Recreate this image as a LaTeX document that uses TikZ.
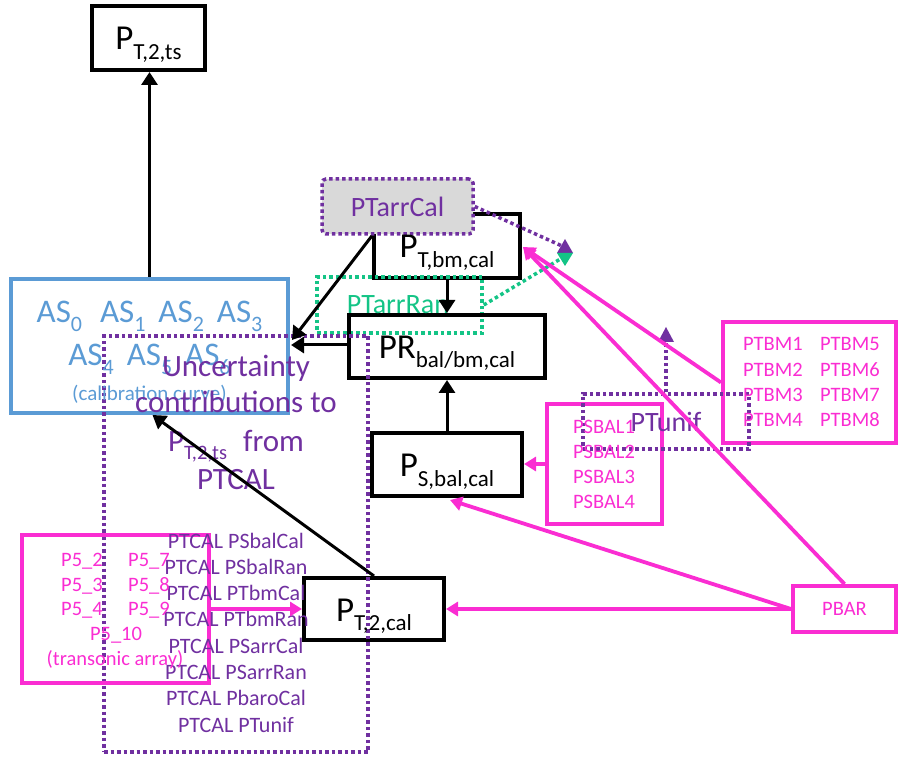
\documentclass[tikz,border=0pt]{standalone}
\usepackage{fontspec}
\setmainfont{Carlito}
\usetikzlibrary{arrows.meta,calc}
\definecolor{mag}{RGB}{250,45,210}
\definecolor{purp}{RGB}{112,48,160}
\definecolor{grn}{RGB}{20,196,134}
\definecolor{blu}{RGB}{91,155,213}
\definecolor{gry}{RGB}{217,217,217}
\newcommand\fs[1]{\fontsize{#1}{#1}\selectfont}
\newcommand\subP[1]{\raisebox{-9.5pt}{\fs{23}#1}}
\newcommand\subA[1]{\raisebox{-8.5pt}{\fs{22}#1}}
\newcommand\subU[1]{\raisebox{-8pt}{\fs{20.5}#1}}
\begin{document}
\begin{tikzpicture}[x=1pt,y=-1pt,
  blackbox/.style={draw=black, line width=4pt, rectangle, inner sep=0pt},
  magbox/.style={draw=mag, line width=4pt, rectangle, inner sep=0pt},
  bluebox/.style={draw=blu, line width=4pt, rectangle, inner sep=0pt},
  purpdotbox/.style={draw=purp, line width=3.5pt, dash pattern=on 3.5pt off 3pt, rectangle, inner sep=0pt},
  grndotbox/.style={draw=grn, line width=3.5pt, dash pattern=on 3.5pt off 3pt, rectangle, inner sep=0pt},
  ptext/.style={font=\fs{35}, inner sep=0pt, text=black},
  astext/.style={font=\fs{33}, inner sep=0pt, text=blu},
  unctext/.style={font=\fs{31}, inner sep=0pt, text=purp},
  caltext/.style={font=\fs{22}, inner sep=0pt, text=purp},
  magtext/.style={font=\fs{20.5}, inner sep=0pt, text=mag},
  barrow/.style={draw=black, line width=3pt, -{Triangle[length=13pt,width=16pt]}},
  marrow/.style={draw=mag, line width=3.8pt, -{Triangle[length=12pt,width=14pt]}},
  purpdot/.style={draw=purp, line width=3.5pt, dash pattern=on 3.5pt off 3pt},
  grndot/.style={draw=grn, line width=3.5pt, dash pattern=on 3.5pt off 3pt},
]
\useasboundingbox (0,0) rectangle (898,759);

% boxes
\node[bluebox, minimum width=277pt, minimum height=134pt] (as) at (149.5,346) {};
\node[blackbox, minimum width=113pt, minimum height=64pt] (pt2ts) at (148.5,38) {};
\node[blackbox, minimum width=146pt, minimum height=64pt] (ptbm) at (447,246) {};
\node[grndotbox, minimum width=165pt, minimum height=56pt] (ptarrran) at (399.5,305) {};
\node[blackbox, minimum width=196pt, minimum height=63pt] (pr) at (447,346.5) {};
\node[blackbox, minimum width=150pt, minimum height=63pt] (ps) at (447,464.5) {};
\node[blackbox, minimum width=140pt, minimum height=62pt] (pt2cal) at (374,609) {};
\node[purpdotbox, minimum width=264pt, minimum height=416pt] (unc) at (236,544) {};
\node[magbox, minimum width=187pt, minimum height=148pt] (p5) at (115.5,609) {};
\node[magbox, minimum width=115pt, minimum height=120pt] (psbal) at (604.5,464) {};
\node[magbox, minimum width=173pt, minimum height=121pt] (ptbmb) at (809.5,382.5) {};
\node[magbox, minimum width=103pt, minimum height=46pt, font=\fs{20.5}, text=mag] (pbar) at (844.5,609) {PBAR};
\node[purpdotbox, minimum width=166pt, minimum height=55pt, font=\fs{28}, text=purp] (ptunif) at (666,421.5) {PTunif};
\node[purpdotbox, fill=gry, rounded corners=4pt, minimum width=151pt, minimum height=55pt, font=\fs{28}, text=purp] (ptarrcal) at (397.5,206.5) {PTarrCal};
\node[font=\fs{28}, text=grn, inner sep=0pt, anchor=base] (ptarrranT) at (398,314) {PTarrRan};

% P texts
\node[ptext, anchor=base] (pt2tsT) at ($(pt2ts.center)+(0,12)$) {P\subP{T,2,ts}};
\node[ptext, anchor=base] (ptbmT) at ($(ptbm.center)+(0,12)$) {P\subP{T,bm,cal}};
\node[ptext, anchor=base] (prT) at ($(pr.center)+(0,12)$) {PR\subP{bal/bm,cal}};
\node[ptext, anchor=base] (psT) at ($(ps.center)+(0,12)$) {P\subP{S,bal,cal}};
\node[ptext, anchor=base] (pt2calT) at ($(pt2cal.center)+(0,12)$) {P\subP{T,2,cal}};

% AS texts
\node[astext, anchor=base] (as1) at (149.5,323) {AS\subA{0}\hspace{18pt}AS\subA{1}\hspace{13pt}AS\subA{2}\hspace{13pt}AS\subA{3}};
\node[astext, anchor=base] (as2) at (149.5,366) {AS\subA{4}\hspace{13pt}AS\subA{5}\hspace{13pt}AS\subA{6}};
\node[font=\fs{21}, text=blu, inner sep=0pt, anchor=base] (as3) at (149.5,401) {(calibration curve)};

% Uncertainty text
\node[unctext, anchor=base] (u1) at (236,377) {Uncertainty};
\node[unctext, anchor=base] (u2) at (236,413) {contributions to};
\node[unctext, anchor=base] (u3) at (236,452) {P\subU{T,2,ts}\hspace{16pt}from};
\node[unctext, anchor=base] (u4) at (236,490) {PTCAL};
\foreach \t [count=\i from 0] in {PSbalCal,PSbalRan,PTbmCal,PTbmRan,PSarrCal,PSarrRan,PbaroCal,PTunif}
  \node[caltext, anchor=base] (cal\i) at (236,{548+26.3*\i}) {PTCAL \t};

% P5 texts
\node[magtext, anchor=base] (p5a) at (82,566) {P5\_2};
\node[magtext, anchor=base] (p5b) at (82,591) {P5\_3};
\node[magtext, anchor=base] (p5c) at (82,615) {P5\_4};
\node[magtext, anchor=base] (p5d) at (149,566) {P5\_7};
\node[magtext, anchor=base] (p5e) at (149,591) {P5\_8};
\node[magtext, anchor=base] (p5f) at (149,615) {P5\_9};
\node[magtext, anchor=base] (p5g) at (116,640) {P5\_10};
\node[magtext, anchor=base] (p5h) at (115,665) {(transonic array)};

% PSBAL texts
\foreach \i in {1,...,4}
  \node[magtext, anchor=base] (psb\i) at (604,{409+25*\i}) {PSBAL\i};
% PTBM texts
\foreach \i in {1,...,4}{
  \node[magtext, anchor=base] (ptbmL\i) at (773,{325.5+25.3*\i}) {PTBM\i};
  \pgfmathtruncatemacro\j{\i+4}
  \node[magtext, anchor=base] (ptbmR\i) at (850,{325.5+25.3*\i}) {PTBM\j};
}

% triangles (dotted connector ends)
\coordinate (pcT) at (562,246);
\coordinate (gcT) at (562,258);
\coordinate (puT) at (666,342);
\draw[purpdot] (ptarrcal.east) -- (pcT);
\draw[grndot] (ptarrran.east) -- (gcT);
\draw[purpdot] (ptunif.north) -- (puT);
\fill[purp] (565,239) -- (573,253) -- (557,253) -- cycle;
\fill[grn] (557,253) -- (573,253) -- (565,266) -- cycle;
\fill[purp] (666,327) -- (674,342) -- (658,342) -- cycle;

% black connectors
\draw[barrow] (as.north) -- (as.north |- pt2ts.south);
\draw[barrow] (ptbm.south) -- (pr.north);
\draw[barrow] (ps.north) -- (pr.south);
\draw[barrow] ($(pr.west)+(0,-1.5)$) -- ($(pr.west -| as.east)+(1,-1.5)$);
\draw[barrow] (ptbm.west |- ptarrcal.south) -- ($(as.east)+(2,-6)$);
\draw[barrow] (pt2cal.north) -- ($(as.south)+(3,0)$);

% magenta connectors
\draw[marrow] (p5.east |- pt2cal.west) -- (pt2cal.west);
\draw[marrow] (pbar.west) -- (pbar.west -| pt2cal.east);
\draw[marrow] (pbar.west) -- ($(ps.south)+(3,2)$);
\draw[marrow] (pbar.north) -- ($(ptbm.east)+(1,1)$);
\draw[marrow] (ptbmb.west) -- ($(ptbm.east)+(1,1)$);
\draw[marrow] (psbal.west) -- (psbal.west -| ps.east);
\end{tikzpicture}
\end{document}
